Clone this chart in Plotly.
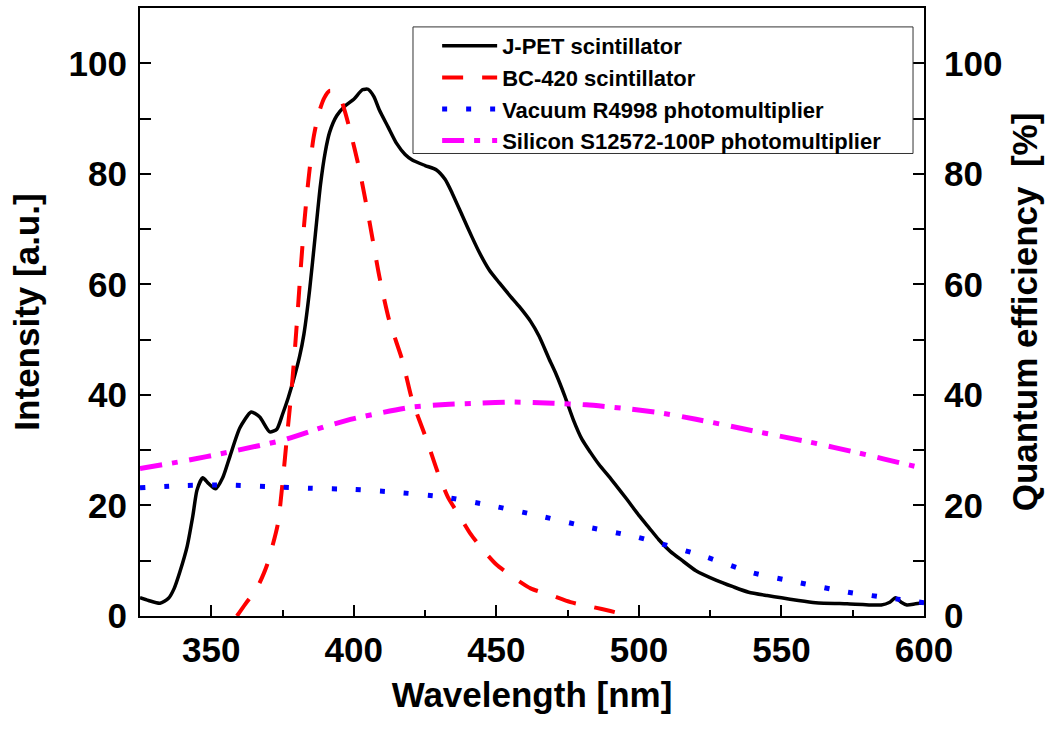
import plotly.graph_objects as go

# ---- data ----
jpet_x = [325, 328, 332, 335, 337, 339, 341.5, 343.5, 345, 347, 349, 351.5, 354, 356.5, 360, 364, 367,
          370.5, 373, 375, 377, 379, 381, 382.5, 384.5, 386.5, 388.3, 390, 391.5, 394, 397, 400, 403,
          405, 407, 409, 412, 415, 418, 420.5, 425, 429, 432, 434.5, 438, 441.5, 444, 447.5, 451, 455,
          458, 462, 465, 468.5, 471, 474, 477, 480, 483, 486, 490.5, 495.5, 500, 503.5, 507, 511, 515,
          520, 527, 533, 538.5, 545, 550, 556, 562, 573, 585, 588, 590, 592, 594, 597, 600]
jpet_y = [3.3, 2.8, 2.3, 3.2, 5, 8, 12.5, 18, 22.8, 25, 24, 23, 25, 28.8, 34, 36.9, 36,
          33.3, 33.8, 36.5, 39.5, 43, 47, 51, 59, 69, 78, 84, 87.5, 90.5, 92.3, 93.5, 95.2,
          95.3, 94, 91.5, 88.5, 85.5, 83.5, 82.5, 81.5, 80.7, 79, 76.5, 72.5, 68.5, 65.8, 62.6, 60.3, 57.8,
          56, 53.3, 50.6, 46.5, 43.7, 39.8, 35.5, 32, 29.6, 27.4, 24.6, 21.3, 18.2, 16, 13.8, 11.7, 10.1,
          8.2, 6.5, 5.3, 4.3, 3.7, 3.3, 2.8, 2.4, 2.2, 2.0, 2.5, 3.3, 2.5, 2.0, 2.2, 2.4]

bc_x = [359, 362, 366, 369.4, 373.3, 375.1, 376.6, 378, 379.3, 380.3, 381.4, 382.6, 384, 385.8, 387.7,
        389.6, 391.5, 393.5, 395.6, 398.4, 402, 405.4, 409, 412.4, 417, 420.5, 425.6, 429.5, 433, 437.3,
        441, 445.4, 450, 455.9, 462, 469, 476, 484, 490, 497]
bc_y = [0, 2.2, 5, 9, 16.5, 24.6, 32.7, 40, 48, 55, 63, 71, 78.5, 86.3, 91,
        93.7, 95, 94.8, 93.3, 88.4, 80.7, 71.6, 61.3, 53.5, 46.3, 39, 31.8, 25.9, 21.5, 17.9,
        14.8, 11.9, 9.3, 7, 5, 3.8, 2.5, 1.6, 0.9, 0]

pmt_x = [325, 340, 355, 370, 385, 400, 414.5, 432, 448.8, 465.3, 482, 499.2, 507, 523.5, 540, 556.6,
         573.4, 590, 600]
pmt_y = [23.2, 23.6, 23.7, 23.4, 23.1, 22.9, 22.4, 21.5, 19.9, 18.1, 16.1, 14.3, 13.2, 10.7, 7.8, 6.0,
         4.3, 3.1, 2.4]

sipm_x = [325, 340, 356.5, 375, 390, 400, 409, 420.5, 433.5, 444, 455, 470, 481.6, 494, 507, 520,
          542, 559.6, 577, 595, 600]
sipm_y = [26.7, 28.0, 29.7, 31.8, 34.3, 35.7, 36.7, 37.8, 38.3, 38.5, 38.7, 38.5, 38.2, 37.6, 36.8, 35.6,
          33.3, 31.5, 29.5, 27.3, 26.7]

names = ["J-PET scintillator", "BC-420 scintillator", "Vacuum R4998 photomultiplier",
         "Silicon S12572-100P photomultiplier"]

x_ticks = [350, 400, 450, 500, 550, 600]
y_ticks = [0, 20, 40, 60, 80, 100]

FONT = "Liberation Sans, Arial, sans-serif"

fig = go.Figure()
fig.add_trace(go.Scatter(x=jpet_x, y=jpet_y, name=names[0], mode="lines",
                         line=dict(color="black", width=3.5, shape="spline", smoothing=0.6)))
fig.add_trace(go.Scatter(x=bc_x, y=bc_y, name=names[1], mode="lines",
                         line=dict(color="#ff0000", width=4, dash="21px,19px", shape="spline", smoothing=0.6)))
fig.add_trace(go.Scatter(x=pmt_x, y=pmt_y, name=names[2], mode="lines", yaxis="y2",
                         line=dict(color="#0000ff", width=5, dash="5px,19px", shape="spline", smoothing=0.6)))
fig.add_trace(go.Scatter(x=sipm_x, y=sipm_y, name=names[3], mode="lines", yaxis="y2",
                         line=dict(color="#ff00ff", width=5, dash="22px,10px,6px,12px", shape="spline", smoothing=0.6)))

axis_common = dict(showgrid=False, zeroline=False, showline=True, linecolor="black", linewidth=2,
                   ticks="inside", tickcolor="black", tickwidth=2,
                   tickfont=dict(family=FONT, size=35, color="black", weight="bold"))

title_font = dict(family=FONT, size=35, color="black", weight="bold")

fig.update_layout(
    width=1053, height=729,
    margin=dict(l=140, r=129, t=6, b=113),
    paper_bgcolor="white", plot_bgcolor="white",
    font=dict(family=FONT, color="black"),
    xaxis=dict(range=[325, 600], tickvals=x_ticks, ticklen=11, mirror=True,
               minor=dict(dtick=25, tick0=325, ticklen=6, ticks="inside", tickcolor="black", tickwidth=2),
               ticklabelstandoff=2,
               title=dict(text="Wavelength [nm]", standoff=14, font=title_font),
               **axis_common),
    yaxis=dict(range=[0, 110], tickvals=y_ticks, ticklen=11, mirror=False,
               minor=dict(dtick=10, ticklen=11, ticks="inside", tickcolor="black", tickwidth=2),
               ticklabelstandoff=4,
               title=dict(text="Intensity [a.u.]", standoff=18, font=title_font),
               **axis_common),
    yaxis2=dict(range=[0, 110], tickvals=y_ticks, ticklen=11, overlaying="y", side="right",
                minor=dict(dtick=10, ticklen=11, ticks="inside", tickcolor="black", tickwidth=2),
                ticklabelstandoff=11,
                title=dict(text="Quantum efficiency  [%]", standoff=11, font=title_font),
                **axis_common),
    legend=dict(x=0.379, y=0.972, xanchor="left", yanchor="top",
                bgcolor="rgba(0,0,0,0)", borderwidth=0,
                font=dict(family=FONT, size=22, color="black", weight="bold"),
                itemwidth=55, tracegroupgap=0),
    shapes=[dict(type="rect", xref="paper", yref="paper",
                 x0=0.3482, x1=0.986, y0=0.7607, y1=0.9689,
                 line=dict(color="#333333", width=1), fillcolor="white", layer="above")],
)

fig.write_html("out.html")
